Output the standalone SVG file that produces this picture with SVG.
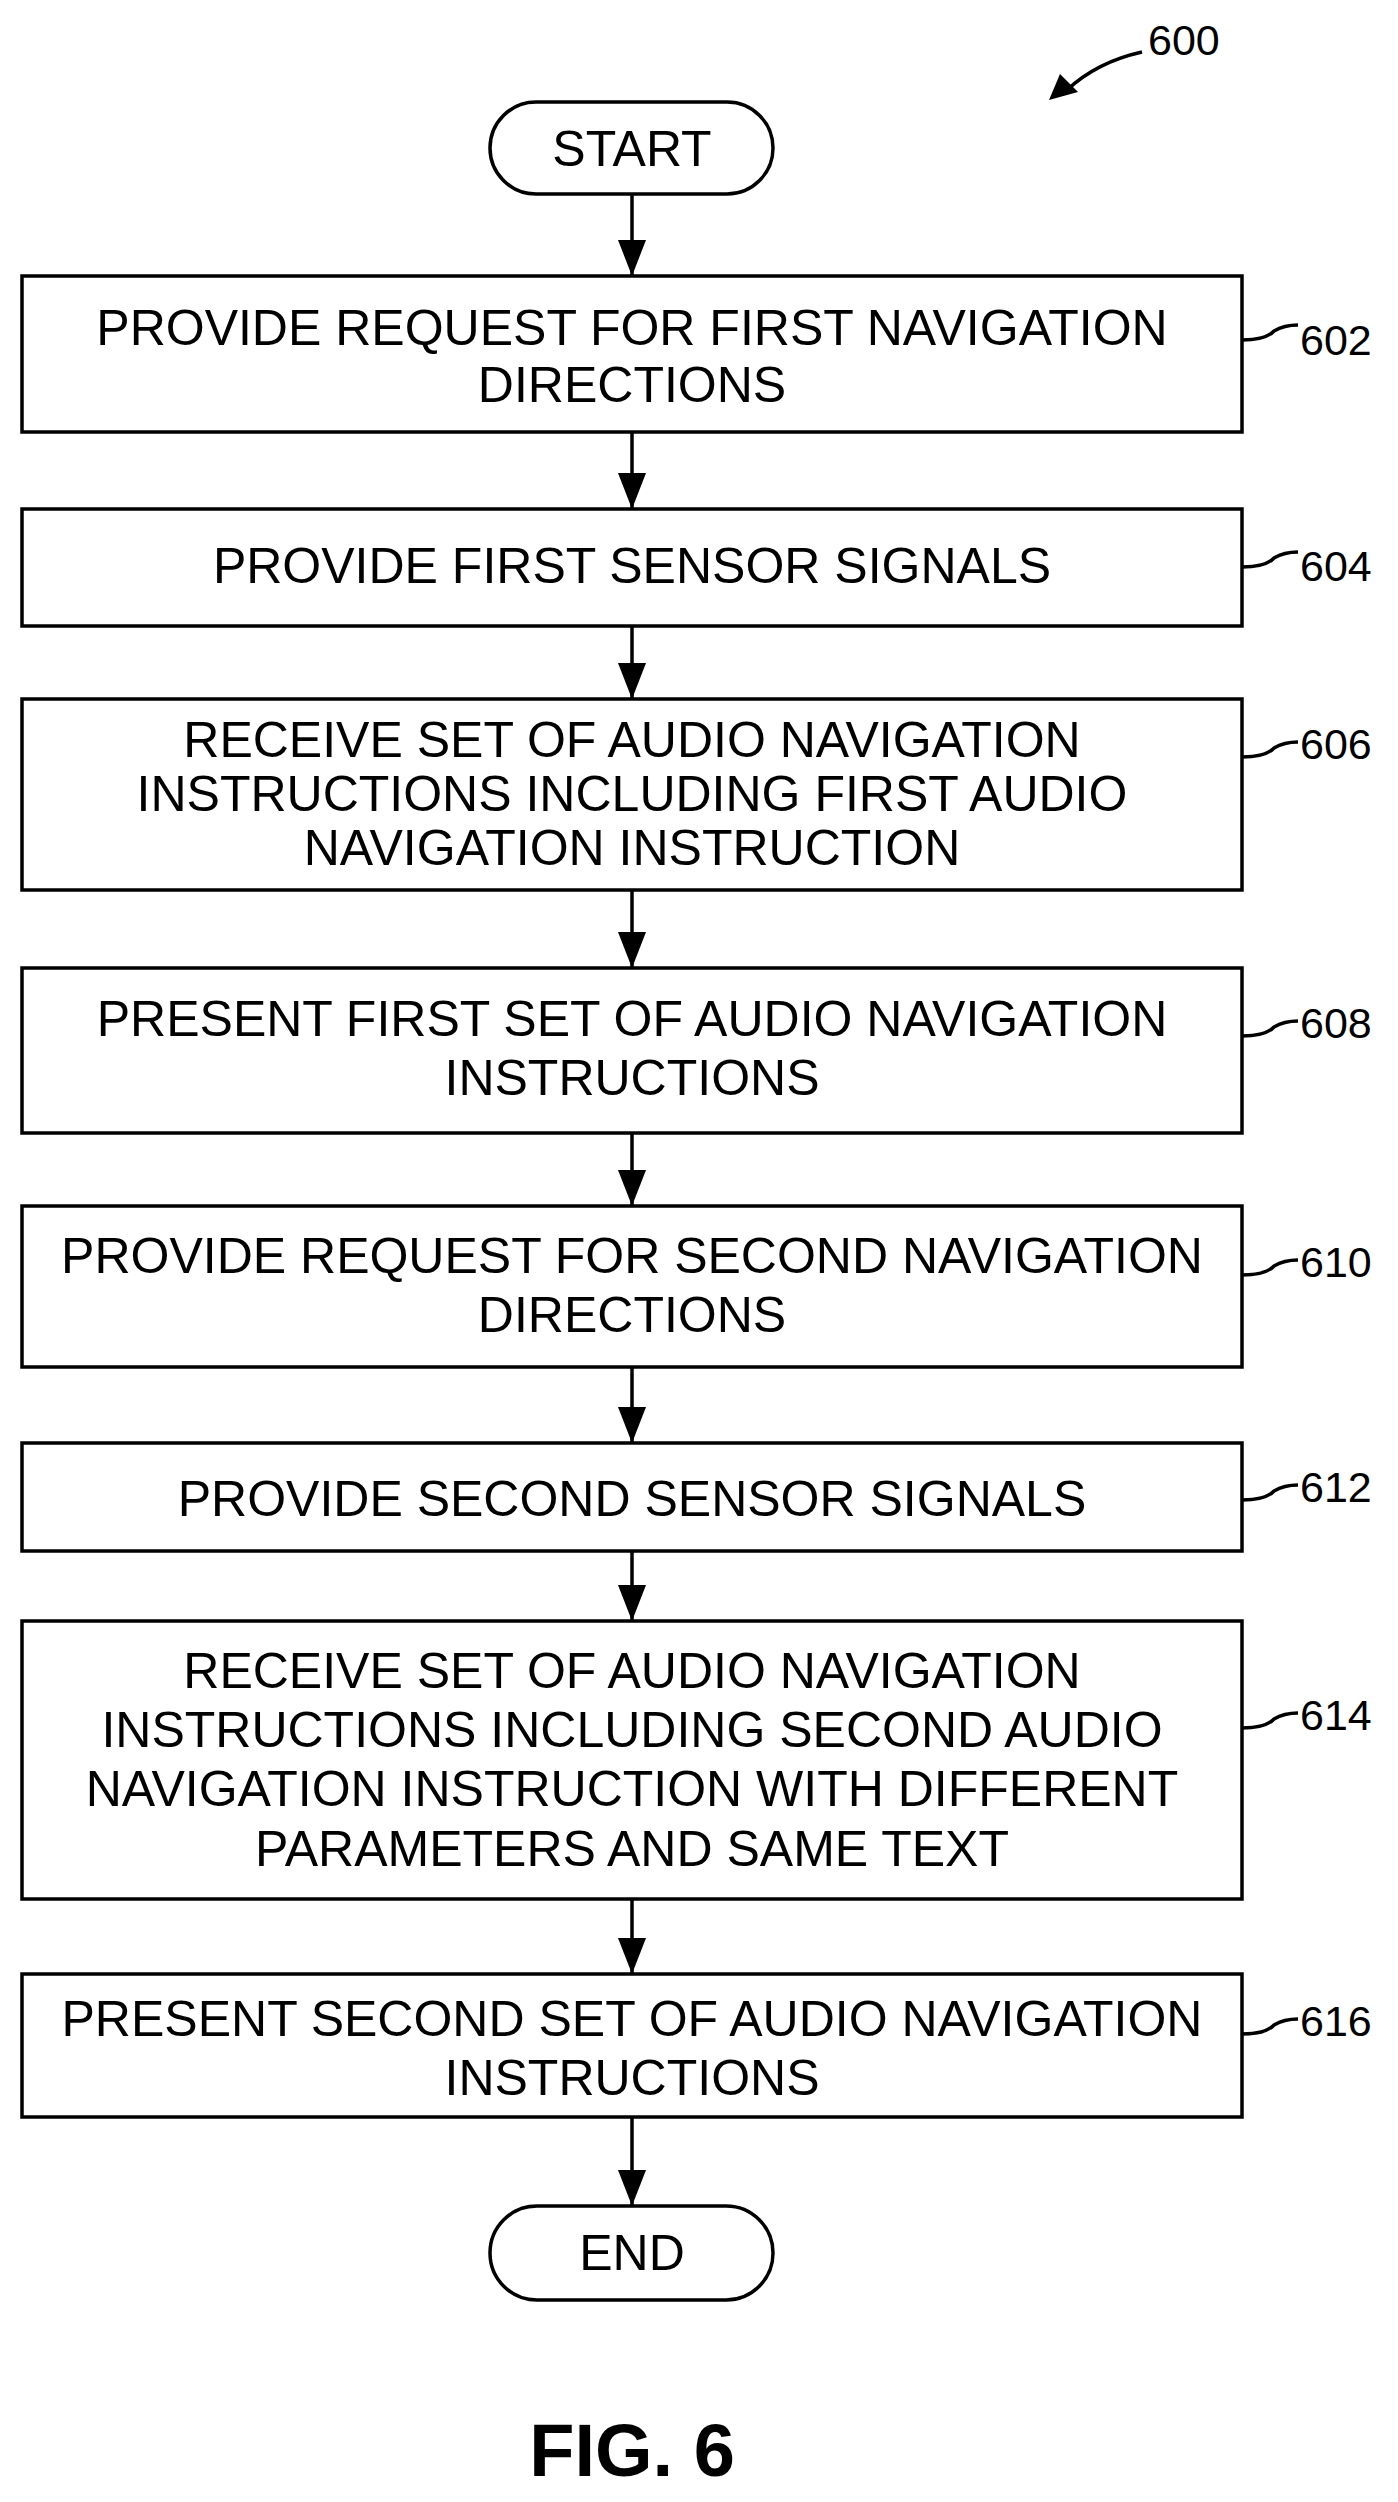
<svg xmlns="http://www.w3.org/2000/svg" width="1398" height="2502" viewBox="0 0 1398 2502">
<style>
.b{fill:#fff;stroke:#000;stroke-width:3.5}
.t{font-family:"Liberation Sans",Arial,sans-serif;font-size:50px;text-anchor:middle;fill:#000}
.l{font-family:"Liberation Sans",Arial,sans-serif;font-size:43px;fill:#000}
.c{stroke:#000;stroke-width:3.5;fill:none}
</style>
<defs><marker id="h" viewBox="0 0 36 28" refX="36" refY="14" markerWidth="36" markerHeight="28" markerUnits="userSpaceOnUse" orient="auto"><path d="M0,0L36,14L0,28z" fill="#000"/></marker></defs>
<g id="connectors">
<line class="c" x1="632" y1="194" x2="632" y2="276" marker-end="url(#h)"/>
<line class="c" x1="632" y1="432" x2="632" y2="509" marker-end="url(#h)"/>
<line class="c" x1="632" y1="626" x2="632" y2="699" marker-end="url(#h)"/>
<line class="c" x1="632" y1="890" x2="632" y2="968" marker-end="url(#h)"/>
<line class="c" x1="632" y1="1133" x2="632" y2="1206" marker-end="url(#h)"/>
<line class="c" x1="632" y1="1367" x2="632" y2="1443" marker-end="url(#h)"/>
<line class="c" x1="632" y1="1551" x2="632" y2="1621" marker-end="url(#h)"/>
<line class="c" x1="632" y1="1899" x2="632" y2="1974" marker-end="url(#h)"/>
<line class="c" x1="632" y1="2117" x2="632" y2="2206" marker-end="url(#h)"/>
<path class="c" d="M1142,52 Q1097,62 1067,90"/>
<path d="M1049,100 L1060,74 L1078,92 z" fill="#000"/>
<path class="c" stroke-width="2" d="M1242,340 Q1266,340 1274,331 Q1284,325 1298,325"/>
<path class="c" stroke-width="2" d="M1242,567 Q1266,567 1274,558 Q1284,552 1298,552"/>
<path class="c" stroke-width="2" d="M1242,757 Q1266,757 1274,748 Q1284,742 1298,742"/>
<path class="c" stroke-width="2" d="M1242,1036 Q1266,1036 1274,1027 Q1284,1021 1298,1021"/>
<path class="c" stroke-width="2" d="M1242,1275 Q1266,1275 1274,1266 Q1284,1260 1298,1260"/>
<path class="c" stroke-width="2" d="M1242,1500 Q1266,1500 1274,1491 Q1284,1485 1298,1485"/>
<path class="c" stroke-width="2" d="M1242,1728 Q1266,1728 1274,1719 Q1284,1713 1298,1713"/>
<path class="c" stroke-width="2" d="M1242,2034 Q1266,2034 1274,2025 Q1284,2019 1298,2019"/>
</g>
<text class="l" x="1148" y="55">600</text>
<g id="start"><rect class="b" x="490" y="102" width="283" height="92" rx="46"/><text class="t" x="632" y="166">START</text></g>
<g id="n602"><rect class="b" x="22" y="276" width="1220" height="156"/><text class="t" x="632" y="345">PROVIDE REQUEST FOR FIRST NAVIGATION</text><text class="t" x="632" y="402">DIRECTIONS</text><text class="l" x="1300" y="355">602</text></g>
<g id="n604"><rect class="b" x="22" y="509" width="1220" height="117"/><text class="t" x="632" y="583">PROVIDE FIRST SENSOR SIGNALS</text><text class="l" x="1300" y="581">604</text></g>
<g id="n606"><rect class="b" x="22" y="699" width="1220" height="191"/><text class="t" x="632" y="757">RECEIVE SET OF AUDIO NAVIGATION</text><text class="t" x="632" y="811">INSTRUCTIONS INCLUDING FIRST AUDIO</text><text class="t" x="632" y="865">NAVIGATION INSTRUCTION</text><text class="l" x="1300" y="759">606</text></g>
<g id="n608"><rect class="b" x="22" y="968" width="1220" height="165"/><text class="t" x="632" y="1036">PRESENT FIRST SET OF AUDIO NAVIGATION</text><text class="t" x="632" y="1095">INSTRUCTIONS</text><text class="l" x="1300" y="1038">608</text></g>
<g id="n610"><rect class="b" x="22" y="1206" width="1220" height="161"/><text class="t" x="632" y="1273">PROVIDE REQUEST FOR SECOND NAVIGATION</text><text class="t" x="632" y="1332">DIRECTIONS</text><text class="l" x="1300" y="1277">610</text></g>
<g id="n612"><rect class="b" x="22" y="1443" width="1220" height="108"/><text class="t" x="632" y="1516">PROVIDE SECOND SENSOR SIGNALS</text><text class="l" x="1300" y="1502">612</text></g>
<g id="n614"><rect class="b" x="22" y="1621" width="1220" height="278"/><text class="t" x="632" y="1688">RECEIVE SET OF AUDIO NAVIGATION</text><text class="t" x="632" y="1747">INSTRUCTIONS INCLUDING SECOND AUDIO</text><text class="t" x="632" y="1806">NAVIGATION INSTRUCTION WITH DIFFERENT</text><text class="t" x="632" y="1866">PARAMETERS AND SAME TEXT</text><text class="l" x="1300" y="1730">614</text></g>
<g id="n616"><rect class="b" x="22" y="1974" width="1220" height="143"/><text class="t" x="632" y="2036">PRESENT SECOND SET OF AUDIO NAVIGATION</text><text class="t" x="632" y="2095">INSTRUCTIONS</text><text class="l" x="1300" y="2036">616</text></g>
<g id="end"><rect class="b" x="490" y="2206" width="283" height="94" rx="47"/><text class="t" x="632" y="2270">END</text></g>
<text x="632" y="2476" style="font-family:'Liberation Sans',Arial,sans-serif;font-size:74px;font-weight:bold;text-anchor:middle">FIG. 6</text>
</svg>
